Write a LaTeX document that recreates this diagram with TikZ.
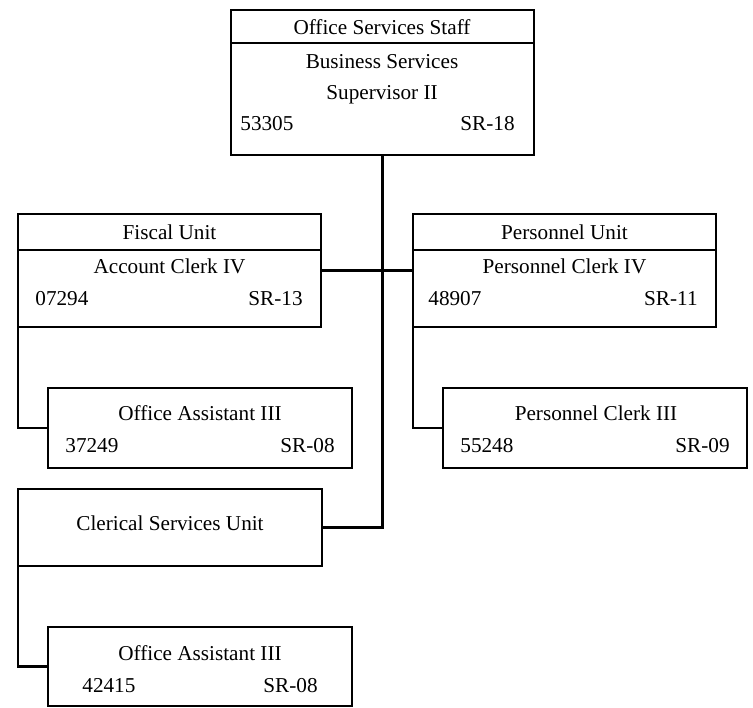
\documentclass[tikz,border=0pt]{standalone}
\usepackage{fontspec}
\setmainfont{Liberation Serif}
\begin{document}
\begin{tikzpicture}[x=0.5pt,y=-0.5pt,
        box/.style={draw,line width=1.3pt,inner sep=0pt,outer sep=0pt,minimum width=151.5pt},
        txt/.style={inner sep=0pt,font=\fontsize{10.6}{12.7}\selectfont},
        link/.style={line width=1.3pt}]
                \useasboundingbox (0,0) rectangle (753,707);
                % boxes
                \node[box,minimum height=72.5pt] (top) at (382.5,82.5) {};
                \node[box,minimum height=56.5pt] (fiscal) at (169.5,270.5) {};
                \node[box,minimum height=56.5pt] (pers) at (564.5,270.5) {};
                \node[box,minimum width=152pt,minimum height=40pt] (oa1) at (200,428) {};
                \node[box,minimum width=152pt,minimum height=40pt] (pc3) at (595,428) {};
                \node[box,minimum width=152pt,minimum height=38.5pt] (cler) at (170,527.5) {};
                \node[box,minimum width=152pt,minimum height=39.5pt] (oa2) at (200,666.5) {};
                \draw[link] (top.west |- 0,43) -- (top.east |- 0,43);
                \draw[link] (fiscal.west |- 0,250) -- (fiscal.east |- 0,250);
                \draw[link] (pers.west |- 0,250) -- (pers.east |- 0,250);
                % texts
                \node[txt,anchor=base] (topH) at (382,34) {Office Services Staff};
                \node[txt,anchor=base] (topA) at (382,68) {Business Services};
                \node[txt,anchor=base] (topB) at (382,99) {Supervisor II};
                \node[txt,anchor=base west] (topN) at (240,130) {53305};
                \node[txt,anchor=base east] (topR) at (515,130) {SR-18};
                \node[txt,anchor=base] (fiscalH) at (169.5,239) {Fiscal Unit};
                \node[txt,anchor=base] (fiscalA) at (169.5,273) {Account Clerk IV};
                \node[txt,anchor=base west] (fiscalN) at (35,305) {07294};
                \node[txt,anchor=base east] (fiscalR) at (303,305) {SR-13};
                \node[txt,anchor=base] (persH) at (564.5,239) {Personnel Unit};
                \node[txt,anchor=base] (persA) at (564.5,273) {Personnel Clerk IV};
                \node[txt,anchor=base west] (persN) at (428,305) {48907};
                \node[txt,anchor=base east] (persR) at (698,305) {SR-11};
                \node[txt,anchor=base] (oa1A) at (200,420) {Office Assistant III};
                \node[txt,anchor=base west] (oa1N) at (65,452) {37249};
                \node[txt,anchor=base east] (oa1R) at (335,452) {SR-08};
                \node[txt,anchor=base] (pc3A) at (596,420) {Personnel Clerk III};
                \node[txt,anchor=base west] (pc3N) at (460,452) {55248};
                \node[txt,anchor=base east] (pc3R) at (730,452) {SR-09};
                \node[txt,anchor=base] (clerA) at (170,530) {Clerical Services Unit};
                \node[txt,anchor=base] (oa2A) at (200,660) {Office Assistant III};
                \node[txt,anchor=base west] (oa2N) at (82,692) {42415};
                \node[txt,anchor=base east] (oa2R) at (318,692) {SR-08};
                % connectors
                \draw[link] (top.south) |- (cler.east);
                \draw[link] (fiscal.east) -- (pers.west);
                \draw[link] (fiscal.south west) |- (oa1.west);
                \draw[link] (pers.south west) |- (pc3.west);
                \draw[link] (cler.south west) |- (oa2.west);
            \end{tikzpicture}
\end{document}
